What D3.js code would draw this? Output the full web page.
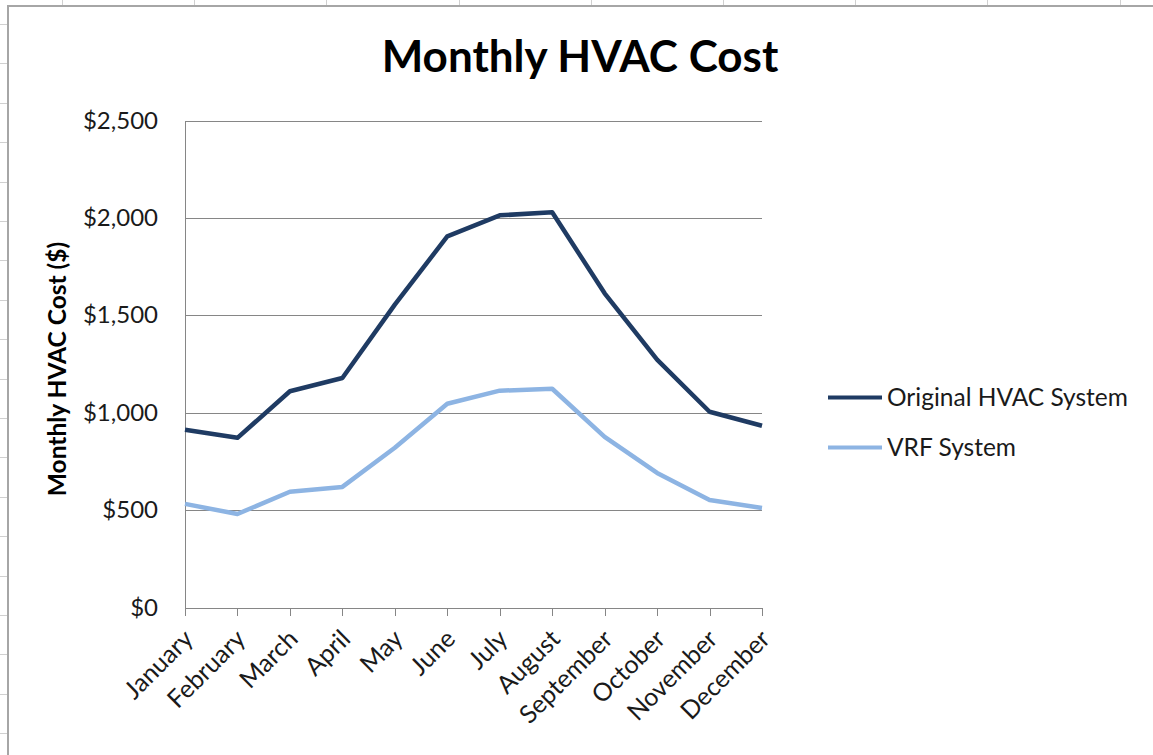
<!DOCTYPE html>
<html>
<head>
<meta charset="utf-8">
<script src="https://cdn.jsdelivr.net/npm/d3@7"></script>
<style>
	body { margin: 0; background: #fff; }
	svg { display: block; font-family: Lato, 'Open Sans', sans-serif; }
	.grid line { stroke: #868686; stroke-width: 1px; shape-rendering: crispEdges; }
	.axis path, .axis line { stroke: #868686; shape-rendering: crispEdges; }
	.axis text { fill: #1a1a1a; font-size: 24px; font-family: Lato, 'Open Sans', sans-serif; }
	.x-axis text { font-size: 25px; }
</style>
</head>
<body>
<svg id="chart" width="1153" height="755"></svg>
<script>

var months = [ 'January', 'February', 'March', 'April', 'May', 'June', 'July', 'August', 'September', 'October', 'November', 'December' ];
var originalCost = [ 912, 871, 1110, 1178, 1555, 1905, 2013, 2029, 1613, 1272, 1005, 933 ];
var vrfCost = [ 532, 480, 594, 619, 820, 1046, 1113, 1123, 876, 691, 552, 511 ];
var yTicks = [ 0, 500, 1000, 1500, 2000, 2500 ];
var seriesNames = [ 'Original HVAC System', 'VRF System' ];
var seriesColors = [ '#1f3b63', '#8db4e3' ];

var svg = d3.select( '#chart' );

// spreadsheet cells peeking out behind the chart
var sheet = svg.append( 'g' ).attr( 'stroke', '#d0d0d0' ).attr( 'stroke-width', 1 );
d3.range( 62, 1153, 132.2 ).forEach( function ( cx ) {
	sheet.append( 'line' ).attr( 'x1', Math.round( cx ) + 0.5 ).attr( 'x2', Math.round( cx ) + 0.5 ).attr( 'y1', 0 ).attr( 'y2', 6 );
} );
d3.range( 24, 755, 39.4 ).forEach( function ( cy ) {
	sheet.append( 'line' ).attr( 'x1', 0 ).attr( 'x2', 7 ).attr( 'y1', Math.round( cy ) + 0.5 ).attr( 'y2', Math.round( cy ) + 0.5 );
} );

// chart frame
svg.append( 'rect' )
	.attr( 'x', 8 ).attr( 'y', 6 )
	.attr( 'width', 1160 ).attr( 'height', 770 )
	.attr( 'fill', '#fff' )
	.attr( 'stroke', '#a6a6a6' )
	.attr( 'stroke-width', 2 );

var plot = { left: 185, right: 762, top: 120.5, bottom: 607.5 };

var x = d3.scalePoint().domain( months ).range( [ plot.left, plot.right ] );
var y = d3.scaleLinear().domain( [ 0, 2500 ] ).range( [ plot.bottom, plot.top ] );

// gridlines
svg.append( 'g' )
	.classed( 'grid', true )
	.selectAll( 'line' )
	.data( yTicks.slice( 1 ) )
	.enter()
	.append( 'line' )
	.attr( 'x1', plot.left ).attr( 'x2', plot.right )
	.attr( 'y1', function ( d ) { return Math.round( y( d ) ) + 0.5; } )
	.attr( 'y2', function ( d ) { return Math.round( y( d ) ) + 0.5; } );

var yAxis = d3.axisLeft( y )
	.tickValues( yTicks )
	.tickSize( 0 )
	.tickPadding( 27 )
	.tickFormat( function ( d ) { return '$' + d3.format( ',' )( d ); } );

svg.append( 'g' )
	.classed( 'axis', true )
	.attr( 'transform', 'translate(' + plot.left + ',0)' )
	.call( yAxis )
	.call( function ( g ) { g.select( '.domain' ).attr( 'd', 'M0.5,' + plot.top + 'V' + plot.bottom ); } );

var xAxis = d3.axisBottom( x ).tickSize( 8 ).tickSizeOuter( 0 );

svg.append( 'g' )
	.classed( 'axis', true )
	.classed( 'x-axis', true )
	.attr( 'transform', 'translate(0,' + plot.bottom + ')' )
	.call( xAxis )
	.selectAll( 'text' )
	.attr( 'text-anchor', 'end' )
	.attr( 'dy', null )
	.attr( 'y', 0 )
	.attr( 'transform', 'translate(9,33) rotate(-45)' );

// lines
var line = d3.line()
	.x( function ( d, i ) { return x( months[i] ); } )
	.y( function ( d ) { return y( d ); } );

[ originalCost, vrfCost ].forEach( function ( values, i ) {
	svg.append( 'path' )
		.datum( values )
		.attr( 'd', line )
		.attr( 'fill', 'none' )
		.attr( 'stroke', seriesColors[i] )
		.attr( 'stroke-width', 4.5 )
		.attr( 'stroke-linejoin', 'round' );
} );

// titles
svg.append( 'text' )
	.attr( 'x', 580 ).attr( 'y', 72 )
	.attr( 'text-anchor', 'middle' )
	.style( 'font-size', '44px' )
	.style( 'font-weight', 'bold' )
	.attr( 'fill', '#000' )
	.text( 'Monthly HVAC Cost' );

svg.append( 'text' )
	.attr( 'transform', 'translate(66,369) rotate(-90)' )
	.attr( 'text-anchor', 'middle' )
	.style( 'font-size', '24.5px' )
	.style( 'font-weight', 'bold' )
	.attr( 'fill', '#000' )
	.text( 'Monthly HVAC Cost ($)' );

// legend
var legend = svg.append( 'g' )
	.selectAll( 'g' )
	.data( seriesNames )
	.enter()
	.append( 'g' )
	.attr( 'transform', function ( d, i ) { return 'translate(828,' + ( 397.5 + i * 50 ) + ')'; } );

legend.append( 'line' )
	.attr( 'x1', 0 ).attr( 'x2', 54 )
	.attr( 'stroke', function ( d, i ) { return seriesColors[i]; } )
	.attr( 'stroke-width', 4 );

legend.append( 'text' )
	.attr( 'x', 59 ).attr( 'y', 8.5 )
	.style( 'font-size', '24.5px' )
	.attr( 'fill', '#1a1a1a' )
	.text( function ( d ) { return d; } );

</script>
</body>
</html>
